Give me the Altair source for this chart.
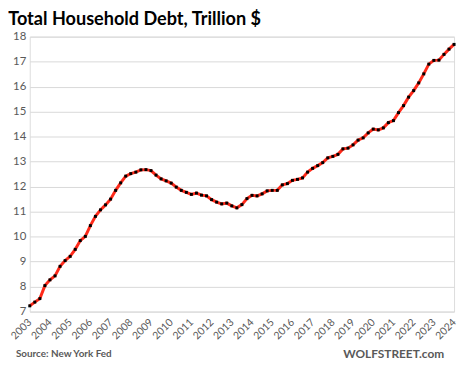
import altair as alt
import pandas as pd

years = list(range(2003, 2025))
debt = [
    7.23, 7.38, 7.52, 8.04,
    8.27, 8.43, 8.81, 9.04,
    9.21, 9.49, 9.84, 10.01,
    10.44, 10.81, 11.07, 11.27,
    11.50, 11.85, 12.15, 12.42,
    12.52, 12.58, 12.67, 12.68,
    12.64, 12.46, 12.31, 12.23,
    12.14, 11.98, 11.85, 11.77,
    11.69, 11.74, 11.66, 11.63,
    11.48, 11.38, 11.31, 11.34,
    11.23, 11.15, 11.28, 11.52,
    11.65, 11.63, 11.71, 11.83,
    11.85, 11.85, 12.07, 12.12,
    12.25, 12.29, 12.35, 12.58,
    12.73, 12.84, 12.96, 13.15,
    13.21, 13.29, 13.51, 13.54,
    13.67, 13.86, 13.95, 14.15,
    14.30, 14.27, 14.35, 14.56,
    14.64, 14.96, 15.24, 15.58,
    15.84, 16.15, 16.51, 16.90,
    17.05, 17.06, 17.29, 17.50,
    17.69,
]
y_ticks = list(range(7, 19))

df = pd.DataFrame({"i": list(range(len(debt))), "debt": debt})

FONT = "Lato"
GRAY = "#595959"

label_expr = "toString(2003 + datum.value / 4)"

x = alt.X("i:Q", scale=alt.Scale(domain=[0, len(debt) - 1], nice=False, zero=False),
          axis=alt.Axis(values=[k * 4 for k in range(len(years))], labelExpr=label_expr,
                        labelAngle=-45, labelAlign="right", labelBaseline="middle",
                        grid=False, domain=False, ticks=False,
                        labelFont=FONT, labelFontSize=10.5, labelColor=GRAY,
                        labelPadding=9, title=None, labelOverlap=False, labelBound=False))
y = alt.Y("debt:Q", scale=alt.Scale(domain=[7, 18], nice=False, zero=False),
          axis=alt.Axis(values=y_ticks, grid=True, gridColor="#d9d9d9", gridWidth=1,
                        domain=False, ticks=False, labelFont=FONT, labelFontSize=11.5,
                        labelColor=GRAY, labelPadding=4, title=None, labelOverlap=False))

line = alt.Chart(df).mark_line(color="#ff2a1a", strokeWidth=3).encode(x=x, y=y)
pts = alt.Chart(df).mark_point(filled=True, color="black", size=9, shape="square", opacity=1).encode(x=x, y=y)

src = alt.Chart(pd.DataFrame({"t": ["Source: New York Fed"]})).mark_text(
    align="left", baseline="middle", font=FONT, fontSize=10, fontWeight="bold", color=GRAY,
    x=-14, y=alt.ExprRef("height + 43"),
).encode(text="t:N")
wolf = alt.Chart(pd.DataFrame({"t": ["WOLFSTREET.com"]})).mark_text(
    align="right", baseline="middle", font=FONT, fontSize=12, fontWeight="bold", color=GRAY,
    x=alt.ExprRef("width - 10"), y=alt.ExprRef("height + 43"),
).encode(text="t:N")

chart = alt.layer(line, pts, src, wolf).properties(
    width=457, height=354,
    autosize=alt.AutoSizeParams(type="fit", contains="padding"),
    title=alt.TitleParams("Total Household Debt, Trillion $", anchor="start", font=FONT,
                          fontSize=18.3, fontWeight="bold", color="black", dx=-1, offset=1),
    padding={"left": 0, "top": 0, "right": 0, "bottom": 0},
).configure_view(stroke=None).configure(background="white")

chart.save("out.html", embed_options={"renderer": "svg", "actions": False})
